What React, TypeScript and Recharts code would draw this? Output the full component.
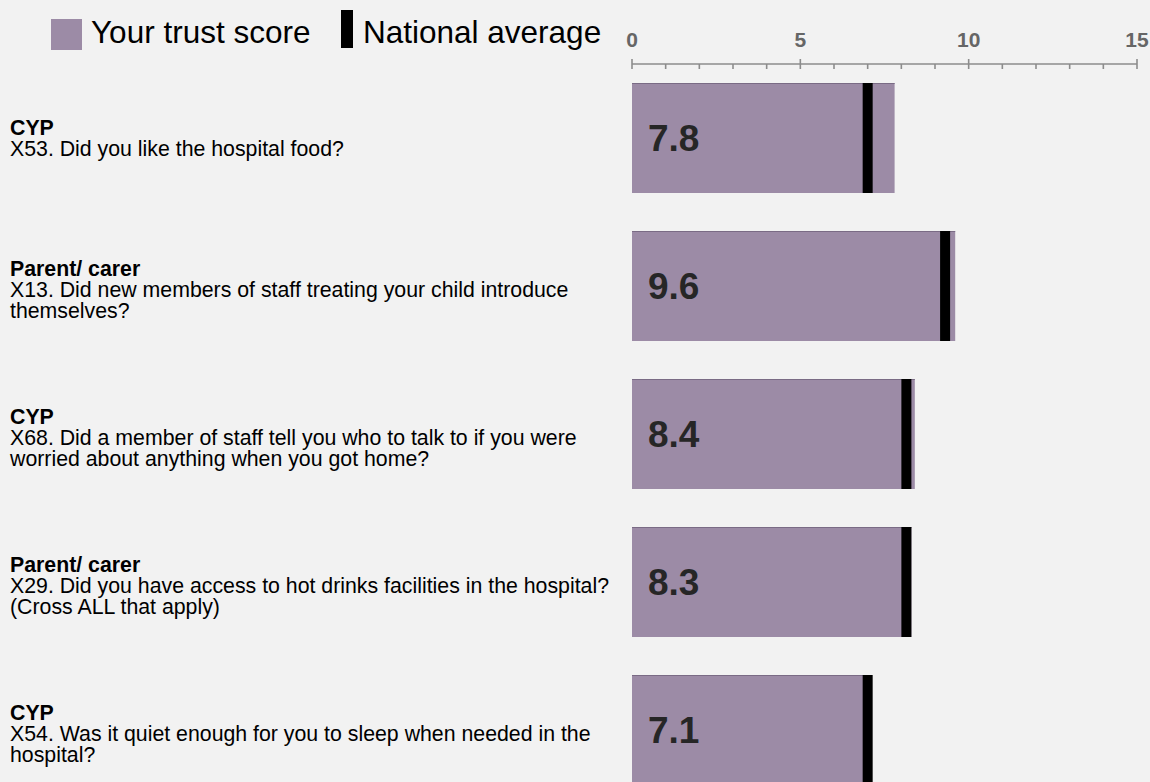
import React from 'react';
import { ComposedChart, Bar, Scatter, XAxis, YAxis, Legend, LabelList } from 'recharts';

const FONT = '"Liberation Sans", Arial, Helvetica, sans-serif';
const BAR_COLOR = '#9c8ba6';
const MARK_COLOR = '#000000';

const groupLabels = ['CYP', 'Parent/ carer', 'CYP', 'Parent/ carer', 'CYP'];
const questionLines = [
  ['X53. Did you like the hospital food?'],
  ['X13. Did new members of staff treating your child introduce', 'themselves?'],
  ['X68. Did a member of staff tell you who to talk to if you were', 'worried about anything when you got home?'],
  ['X29. Did you have access to hot drinks facilities in the hospital?', '(Cross ALL that apply)'],
  ['X54. Was it quiet enough for you to sleep when needed in the', 'hospital?'],
];
const trustScores = [7.8, 9.6, 8.4, 8.3, 7.1];
const nationalAverages = [7.0, 9.3, 8.15, 8.15, 7.0];
const axisTicks = [0, 1, 2, 3, 4, 5, 6, 7, 8, 9, 10, 11, 12, 13, 14, 15];
const labelledTicks = [0, 5, 10, 15];
const legendLabels = ['Your trust score', 'National average'];

const data = trustScores.map((v, i) => ({
  key: 'q' + i,
  group: groupLabels[i],
  lines: questionLines[i],
  trust: v,
  national: nationalAverages[i],
}));

const QuestionTick = (props: any) => {
  const { y, payload } = props;
  const d = data.find((e) => e.key === payload.value);
  if (!d) return null;
  const lines = [d.group, ...d.lines];
  const pitch = 21;
  const start = y - ((lines.length - 1) * pitch) / 2 + (lines.length - 2) * 3.5;
  return (
    <text
      x={10}
      y={start}
      dominantBaseline="central"
      textAnchor="start"
      fontFamily={FONT}
      fontSize={21.3}
      fill="#000"
    >
      {lines.map((l, i) => (
        <tspan key={i} x={10} dy={i === 0 ? 0 : pitch} fontWeight={i === 0 ? 700 : 400}>
          {l}
        </tspan>
      ))}
    </text>
  );
};

const ScaleTick = (props: any) => {
  const { x, y, payload } = props;
  const v = payload.value;
  const major = labelledTicks.includes(v);
  return (
    <g>
      <line x1={x} x2={x} y1={major ? y - 5 : y} y2={y + 5} stroke="#8c8c8c" strokeWidth={1.6} />
      {major && (
        <text x={x} y={y - 17} textAnchor="middle" fontFamily={FONT} fontWeight={700} fontSize={21} fill="#666666">
          {v}
        </text>
      )}
    </g>
  );
};

const ValueLabel = (props: any) => {
  const { x, y, height, value } = props;
  return (
    <text
      x={x + 16}
      y={y + height / 2}
      dominantBaseline="central"
      fontFamily={FONT}
      fontWeight={700}
      fontSize={37}
      fill="#262626"
    >
      {value}
    </text>
  );
};

const Marker = (props: any) => {
  const { cx, cy } = props;
  if (cx == null || cy == null) return null;
  return <rect x={cx - 5} y={cy - 55} width={10} height={110} fill={MARK_COLOR} />;
};

const TrustBar = (props: any) => {
  const { x, y, width, height } = props;
  return (
    <g>
      <rect x={x} y={y} width={width} height={height} fill={BAR_COLOR} />
      <line x1={x} x2={x + width} y1={y + 0.5} y2={y + 0.5} stroke="#7a6b85" strokeWidth={1} />
    </g>
  );
};

const LegendContent = () => (
  <svg width={620} height={60} style={{ display: 'block' }}>
    <rect x={51} y={19} width={31} height={31} fill={BAR_COLOR} />
    <text x={91} y={43} fontFamily={FONT} fontSize={31.5} fill="#000">
      {legendLabels[0]}
    </text>
    <rect x={341} y={10} width={12} height={38} fill={MARK_COLOR} />
    <text x={363} y={43} fontFamily={FONT} fontSize={31.5} fill="#000">
      {legendLabels[1]}
    </text>
  </svg>
);

export default function App() {
  return (
    <div
      style={{
        position: 'fixed',
        left: 0,
        top: 0,
        width: 1150,
        height: 782,
        overflow: 'hidden',
        background: '#f2f2f2',
      }}
    >
      <ComposedChart
        width={1150}
        height={804}
        data={data}
        layout="vertical"
        margin={{ top: 0, right: 13, bottom: 0, left: 0 }}
        barCategoryGap={19}
      >
        <XAxis
          type="number"
          orientation="top"
          domain={[0, 15]}
          ticks={axisTicks}
          interval={0}
          height={64}
          tickSize={0}
          tickMargin={0}
          tickLine={false}
          axisLine={{ stroke: '#8c8c8c', strokeWidth: 1.6 }}
          tick={<ScaleTick />}
        />
        <YAxis
          type="category"
          dataKey="key"
          width={632}
          axisLine={false}
          tickLine={false}
          tick={<QuestionTick />}
        />
        <Legend
          verticalAlign="middle"
          align="center"
          layout="horizontal"
          content={<LegendContent />}
          wrapperStyle={{ position: 'absolute', top: 0, left: 0, width: 620, height: 60, margin: 0, padding: 0 }}
        />
        <Bar dataKey="trust" fill={BAR_COLOR} shape={<TrustBar />} isAnimationActive={false} legendType="square">
          <LabelList dataKey="trust" content={<ValueLabel />} />
        </Bar>
        <Scatter dataKey="national" shape={<Marker />} isAnimationActive={false} legendType="rect" />
      </ComposedChart>
    </div>
  );
}
